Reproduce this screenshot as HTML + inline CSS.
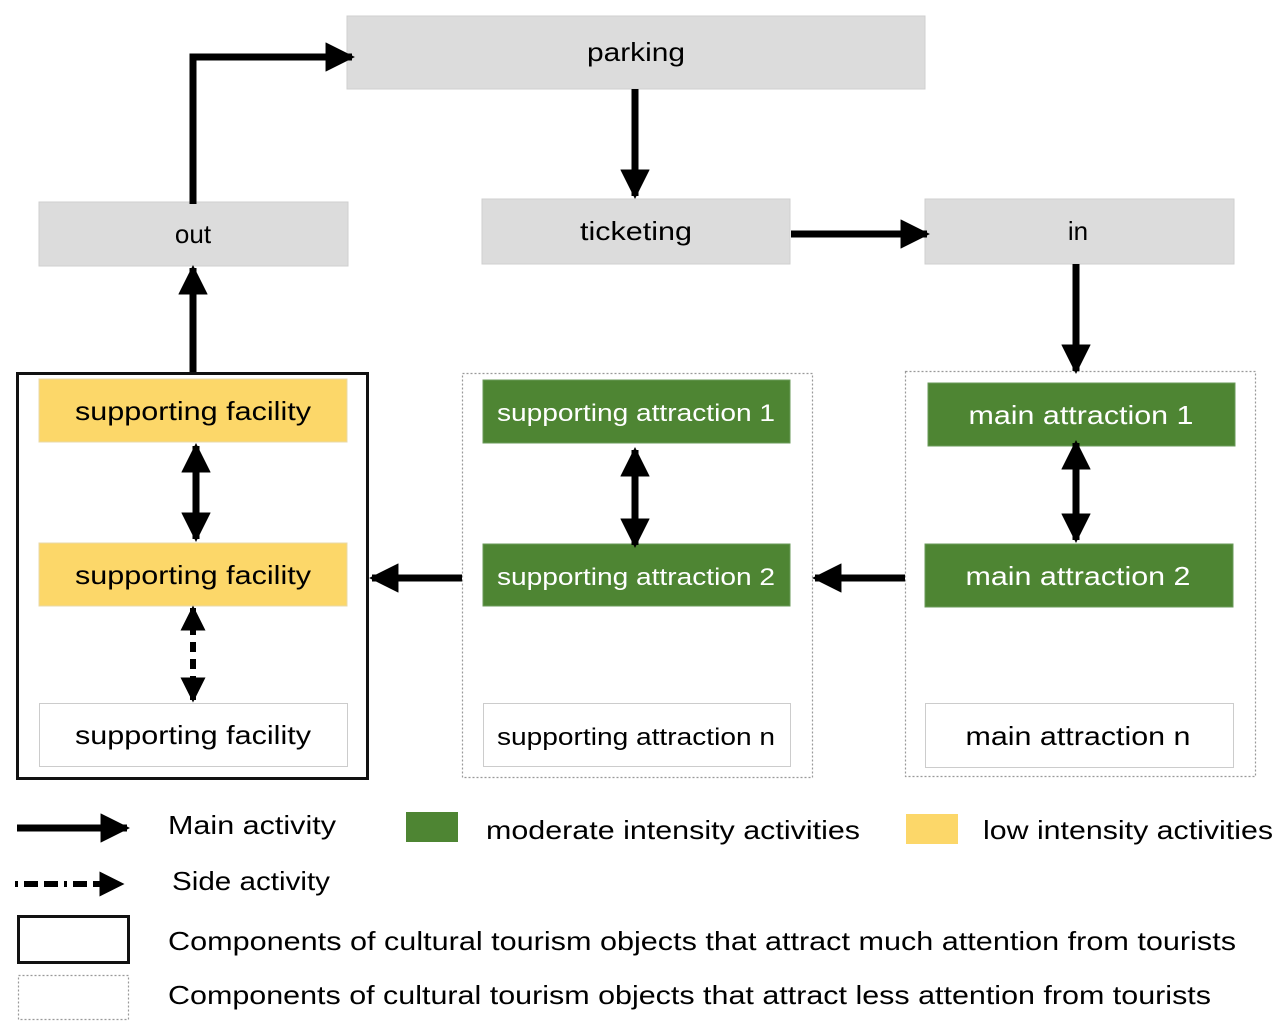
<!DOCTYPE html>
<html><head><meta charset="utf-8"><style>
html,body{margin:0;padding:0;background:#fff;}
svg{display:block;}
text{font-family:"Liberation Sans",sans-serif;}
</style></head><body>
<svg width="1286" height="1035" viewBox="0 0 1286 1035" xmlns="http://www.w3.org/2000/svg">
<defs>
<marker id="ah" viewBox="0 0 10 10" refX="9" refY="5" markerWidth="4.2" markerHeight="4.2" markerUnits="strokeWidth" orient="auto-start-reverse">
<path d="M0,0 L10,5 L0,10 z" fill="#000"/></marker>
</defs>
<!-- top gray boxes -->
<rect x="347" y="16" width="578" height="73" fill="#dcdcdc" stroke="#cfcfcf"/>
<text x="636" y="61" font-size="26" text-anchor="middle" textLength="98" lengthAdjust="spacingAndGlyphs">parking</text>
<rect x="39" y="202" width="309" height="64" fill="#dcdcdc" stroke="#cfcfcf"/>
<text x="193" y="243" font-size="26" text-anchor="middle">out</text>
<rect x="482" y="199" width="308" height="65" fill="#dcdcdc" stroke="#cfcfcf"/>
<text x="636" y="240" font-size="26" text-anchor="middle" textLength="112" lengthAdjust="spacingAndGlyphs">ticketing</text>
<rect x="925" y="199" width="309" height="65" fill="#dcdcdc" stroke="#cfcfcf"/>
<text x="1078" y="240" font-size="26" text-anchor="middle">in</text>

<!-- group boxes -->
<rect x="17.5" y="373.5" width="350" height="405" fill="none" stroke="#111" stroke-width="3"/>
<rect x="462.5" y="373.5" width="350" height="404" fill="none" stroke="#999" stroke-width="1.2" stroke-dasharray="2,2"/>
<rect x="905.5" y="371.5" width="350" height="405" fill="none" stroke="#999" stroke-width="1.2" stroke-dasharray="2,2"/>

<!-- left column -->
<rect x="39" y="379" width="308" height="63" fill="#fcd769" stroke="#e8d8a8"/>
<text x="193" y="420" font-size="26" text-anchor="middle" textLength="236" lengthAdjust="spacingAndGlyphs">supporting facility</text>
<rect x="39" y="543" width="308" height="63" fill="#fcd769" stroke="#e8d8a8"/>
<text x="193" y="584" font-size="26" text-anchor="middle" textLength="236" lengthAdjust="spacingAndGlyphs">supporting facility</text>
<rect x="39.5" y="703.5" width="308" height="63" fill="#fff" stroke="#ccc"/>
<text x="193" y="744" font-size="26" text-anchor="middle" textLength="236" lengthAdjust="spacingAndGlyphs">supporting facility</text>

<!-- middle column -->
<rect x="483" y="380" width="307" height="63" fill="#4e8533" stroke="#6a9a58"/>
<text x="636" y="421" font-size="24" fill="#fff" text-anchor="middle" textLength="278" lengthAdjust="spacingAndGlyphs">supporting  attraction 1</text>
<rect x="483" y="544" width="307" height="62" fill="#4e8533" stroke="#6a9a58"/>
<text x="636" y="585" font-size="24" fill="#fff" text-anchor="middle" textLength="278" lengthAdjust="spacingAndGlyphs">supporting  attraction 2</text>
<rect x="483.5" y="703.5" width="307" height="63" fill="#fff" stroke="#ccc"/>
<text x="636" y="745" font-size="24" text-anchor="middle" textLength="278" lengthAdjust="spacingAndGlyphs">supporting  attraction n</text>

<!-- right column -->
<rect x="928" y="383" width="307" height="63" fill="#4e8533" stroke="#6a9a58"/>
<text x="1081" y="424" font-size="26" fill="#fff" text-anchor="middle" textLength="225" lengthAdjust="spacingAndGlyphs">main attraction 1</text>
<rect x="925" y="544" width="308" height="63" fill="#4e8533" stroke="#6a9a58"/>
<text x="1078" y="585" font-size="26" fill="#fff" text-anchor="middle" textLength="225" lengthAdjust="spacingAndGlyphs">main attraction 2</text>
<rect x="925.5" y="703.5" width="308" height="64" fill="#fff" stroke="#ccc"/>
<text x="1078" y="745" font-size="26" text-anchor="middle" textLength="225" lengthAdjust="spacingAndGlyphs">main attraction n</text>

<!-- connectors -->
<g stroke="#000" stroke-width="7" fill="none">
<path d="M193,204 V57 H352" marker-end="url(#ah)"/>
<path d="M635,89 V196" marker-end="url(#ah)"/>
<path d="M791,234 H927" marker-end="url(#ah)"/>
<path d="M1076,264 V371" marker-end="url(#ah)"/>
<path d="M193,372 V268" marker-end="url(#ah)"/>
<path d="M196,446 V539" marker-start="url(#ah)" marker-end="url(#ah)"/>
<path d="M635,450 V545" marker-start="url(#ah)" marker-end="url(#ah)"/>
<path d="M1076,443 V540" marker-start="url(#ah)" marker-end="url(#ah)"/>
<path d="M462,578 H372" marker-end="url(#ah)"/>
<path d="M905,578 H815" marker-end="url(#ah)"/>
<path d="M193,608 V700" stroke-width="6" stroke-dasharray="10,7" marker-start="url(#ah)" marker-end="url(#ah)"/>
<!-- legend arrows -->
<path d="M17,828 H127" marker-end="url(#ah)"/>
<path d="M15,884 H122" stroke-width="6" stroke-dasharray="3,6,14,6,14,6" marker-end="url(#ah)"/>
</g>

<!-- legend -->
<text x="168" y="834" font-size="26" textLength="168" lengthAdjust="spacingAndGlyphs">Main activity</text>
<rect x="406" y="812" width="52" height="30" fill="#4e8533"/>
<text x="486" y="839" font-size="26" textLength="374" lengthAdjust="spacingAndGlyphs">moderate intensity activities</text>
<rect x="906" y="814" width="52" height="30" fill="#fcd769"/>
<text x="983" y="839" font-size="26" textLength="290" lengthAdjust="spacingAndGlyphs">low intensity activities</text>
<text x="172" y="890" font-size="26" textLength="158" lengthAdjust="spacingAndGlyphs">Side activity</text>
<rect x="18.5" y="916.5" width="110" height="46" fill="none" stroke="#111" stroke-width="3"/>
<text x="168" y="950" font-size="26" textLength="1068" lengthAdjust="spacingAndGlyphs">Components of cultural tourism objects that attract much attention from tourists</text>
<rect x="18.5" y="975.5" width="110" height="44" fill="none" stroke="#999" stroke-width="1.2" stroke-dasharray="2,2"/>
<text x="168" y="1004" font-size="26" textLength="1043" lengthAdjust="spacingAndGlyphs">Components of cultural tourism objects that attract less attention from tourists</text>
</svg>
</body></html>
